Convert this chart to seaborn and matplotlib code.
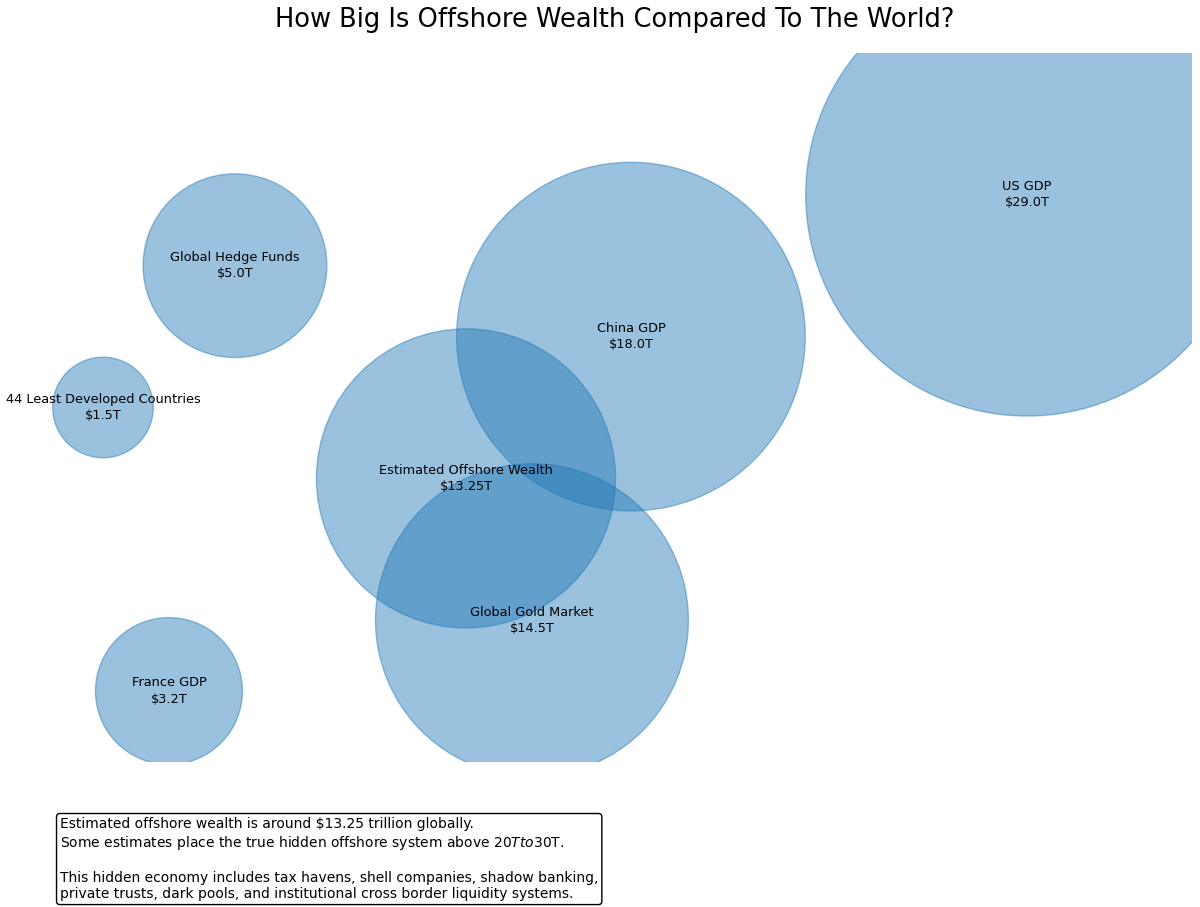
import matplotlib
matplotlib.use("Agg")
import matplotlib.pyplot as plt
import pandas as pd
import seaborn as sns

# bubble data (trillions of USD) and layout positions
labels = [
    "US GDP",
    "China GDP",
    "Global Hedge Funds",
    "44 Least Developed Countries",
    "Estimated Offshore Wealth",
    "Global Gold Market",
    "France GDP",
]
values = [29.0, 18.0, 5.0, 1.5, 13.25, 14.5, 3.2]
value_text = ["$29.0T", "$18.0T", "$5.0T", "$1.5T", "$13.25T", "$14.5T", "$3.2T"]
x_pos = [15, 9, 3, 1, 6.5, 7.5, 2]
y_pos = [8, 6, 7, 5, 4, 2, 1]

note = (
    "Estimated offshore wealth is around \\$13.25 trillion globally.\n"
    "Some estimates place the true hidden offshore system above $20T to $30T.\n"
    "\n"
    "This hidden economy includes tax havens, shell companies, shadow banking,\n"
    "private trusts, dark pools, and institutional cross border liquidity systems."
)


def main() -> None:
    df = pd.DataFrame({"label": labels, "value": values, "text": value_text,
                       "x": x_pos, "y": y_pos})

    plt.rcParams["mathtext.fontset"] = "dejavusans"

    fig = plt.figure(figsize=(12, 9.07), dpi=100)
    ax = fig.add_axes([0.0308, 0.1599, 0.9625, 0.7817])

    sns.scatterplot(data=df, x="x", y="y", s=df["value"] * 3500,
                    color="#1f77b4", edgecolor="#1f77b4", linewidth=1.0,
                    alpha=0.45, legend=False, ax=ax)

    for _, row in df.iterrows():
        ax.text(row["x"], row["y"], f"{row['label']}\n{row['text']}",
                ha="center", va="center", fontsize=9.3, linespacing=1.32)

    ax.set_xlim(0, 17.5)
    ax.set_ylim(0, 10)
    ax.axis("off")
    ax.set_title("How Big Is Offshore Wealth Compared To The World?",
                 fontsize=18.5, pad=19)

    fig.text(0.05, 0.0065, note, fontsize=10, va="bottom", ha="left",
             linespacing=1.22,
             bbox=dict(boxstyle="round,pad=0.25", facecolor="white",
                       edgecolor="black"))

    fig.savefig("out.png", dpi=100)


if __name__ == "__main__":
    main()
